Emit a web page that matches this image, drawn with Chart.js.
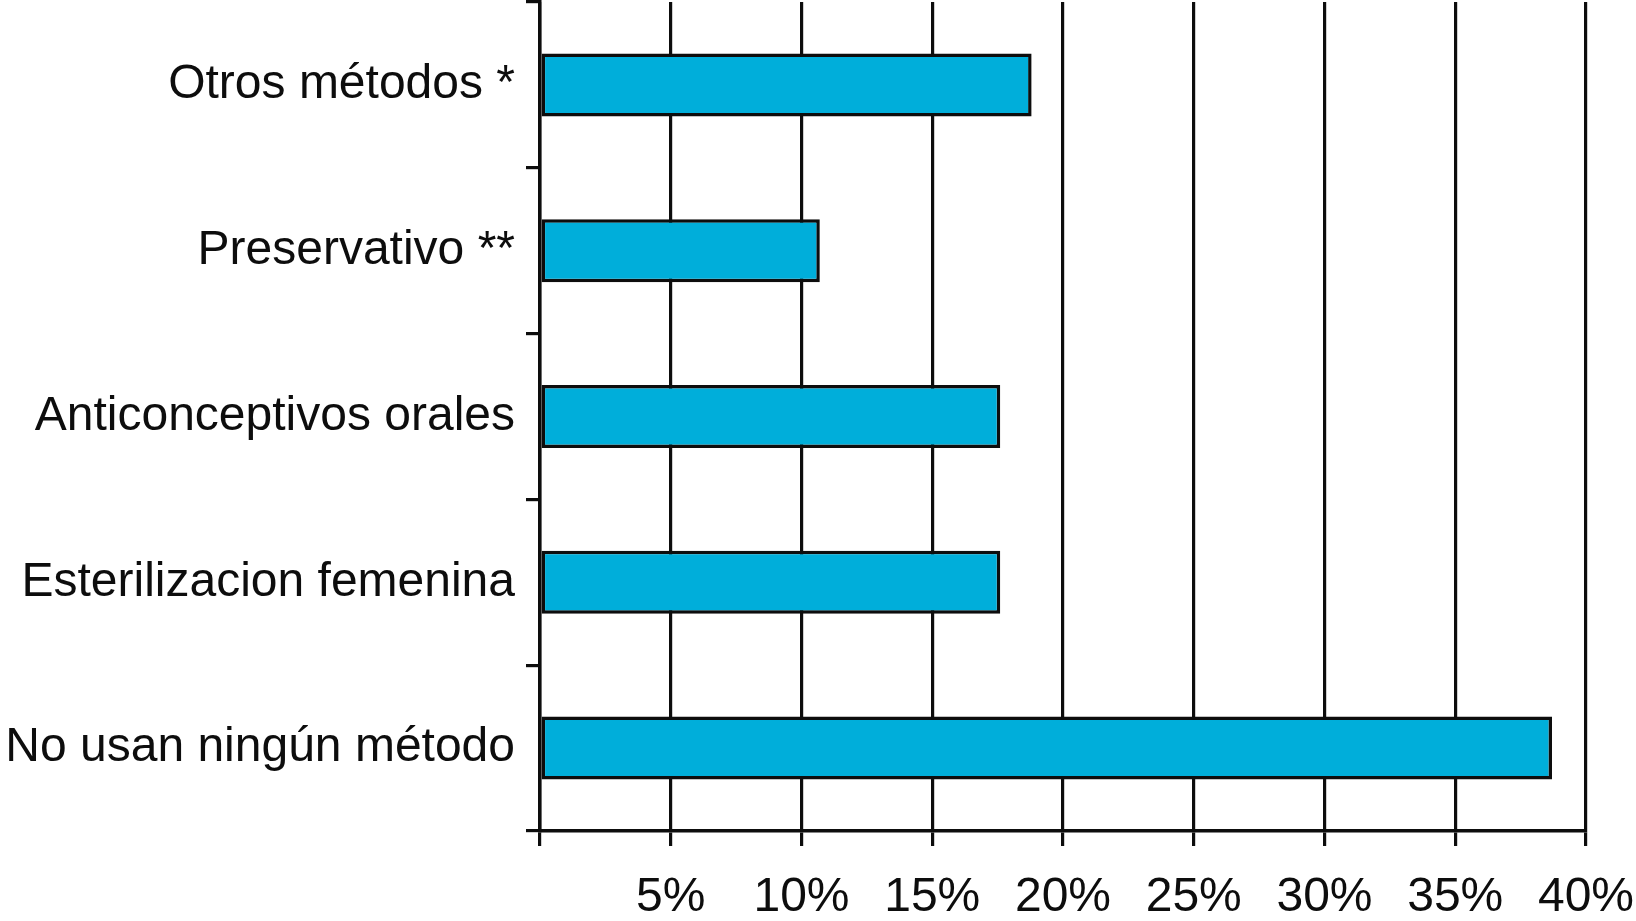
<!DOCTYPE html>
<html>
<head>
<meta charset="utf-8">
<script src="https://cdn.jsdelivr.net/npm/chart.js@4.4.0/dist/chart.umd.min.js"></script>
<style>
  html, body { margin: 0; padding: 0; background: #ffffff; }
  #wrap { width: 1636px; height: 921px; position: relative; }
</style>
</head>
<body>
<div id="wrap"><canvas id="c"></canvas></div>
<script>
const categories = [
  "Otros métodos *",
  "Preservativo **",
  "Anticonceptivos orales",
  "Esterilizacion femenina",
  "No usan ningún método"
];
const values = [18.8, 10.7, 17.6, 17.6, 38.7];
const xTickValues = [0, 5, 10, 15, 20, 25, 30, 35, 40];
const xTickLabels = ["", "5%", "10%", "15%", "20%", "25%", "30%", "35%", "40%"];

const FONT = "'Liberation Sans', Arial, Helvetica, sans-serif";

new Chart(document.getElementById('c'), {
  type: 'bar',
  data: {
    labels: categories,
    datasets: [{
      data: values,
      backgroundColor: '#00AEDA',
      borderColor: '#0d0d0d',
      borderWidth: 3.5,
      borderSkipped: false,
      barPercentage: 0.38,
      categoryPercentage: 1.0
    }]
  },
  options: {
    indexAxis: 'y',
    responsive: true,
    maintainAspectRatio: false,
    animation: false,
    events: [],
    layout: { padding: { top: 2, right: 50, left: 0, bottom: 0 } },
    plugins: { legend: { display: false }, tooltip: { enabled: false } },
    scales: {
      x: {
        type: 'linear',
        min: 0,
        max: 40,
        afterBuildTicks: (scale) => { scale.ticks = xTickValues.map(v => ({ value: v })); },
        afterFit: (scale) => {
          scale.height = 90;
          scale.paddingLeft = 0;
          scale.paddingRight = 0;
        },
        ticks: {
          autoSkip: false,
          maxRotation: 0,
          padding: 23,
          color: '#0d0d0d',
          font: { family: FONT, size: 48 },
          callback: (v) => { const i = xTickValues.indexOf(v); return i >= 0 ? xTickLabels[i] : ''; }
        },
        grid: {
          color: '#0d0d0d',
          lineWidth: 3.2,
          tickLength: 15,
          drawOnChartArea: true,
          drawTicks: true
        },
        border: { display: true, color: '#0d0d0d', width: 3.5 }
      },
      y: {
        type: 'category',
        offset: true,
        afterFit: (scale) => {
          scale.width = 540;
          scale.paddingTop = 0;
          scale.paddingBottom = 0;
        },
        ticks: {
          padding: 11,
          color: '#0d0d0d',
          font: { family: FONT, size: 48 }
        },
        grid: {
          offset: true,
          color: '#0d0d0d',
          lineWidth: 3.2,
          tickLength: 14,
          drawOnChartArea: false,
          drawTicks: true
        },
        border: { display: true, color: '#0d0d0d', width: 3.5 }
      }
    }
  }
});
</script>
</body>
</html>
